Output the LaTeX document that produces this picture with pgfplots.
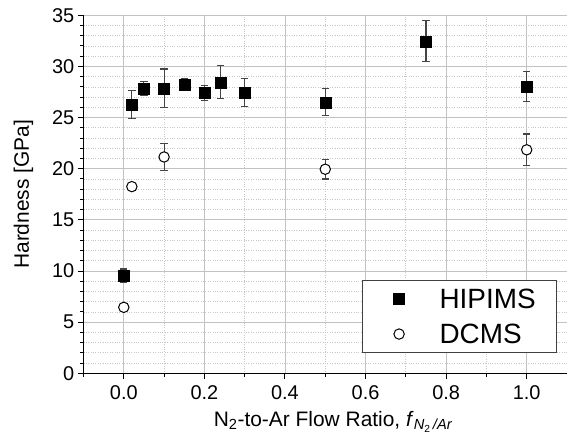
\documentclass[border=0pt]{standalone}
\usepackage{fontspec}
\setmainfont{Liberation Sans}
\usepackage{pgfplots}
\usepackage{pgfplotstable}
\pgfplotsset{compat=1.18}

\definecolor{majgrid}{HTML}{C2C2C2}
\definecolor{mingrid}{HTML}{C8C8C8}
\definecolor{errgray}{HTML}{444444}

% x = N2/Ar flow ratio, y = hardness (GPa), e = error
\pgfplotstableread{
x     y      e
0.00  9.55   0.65
0.02  26.30  1.35
0.05  27.85  0.70
0.10  27.85  1.90
0.15  28.25  0.55
0.20  27.40  0.75
0.24  28.45  1.60
0.30  27.45  1.35
0.50  26.50  1.30
0.75  32.45  2.00
1.00  28.05  1.45
}\hipims

\pgfplotstableread{
x     y      e
0.00  6.45   0.00
0.02  18.25  0.00
0.10  21.15  1.35
0.50  19.95  0.95
1.00  21.85  1.55
}\dcms

\begin{document}
\begin{tikzpicture}
\useasboundingbox (0,0) rectangle (567bp,446bp);
\begin{axis}[
  at={(83.5bp,72.7bp)}, anchor=south west,
  scale only axis, width=483.5bp, height=358bp,
  xmin=-0.1, xmax=1.1, ymin=0, ymax=35,
  xtick={0,0.2,0.4,0.6,0.8,1.0},
  minor xtick={-0.1,0.1,0.3,0.5,0.7,0.9,1.1},
  ytick={0,5,10,15,20,25,30,35},
  minor y tick num=4,
  axis lines=left,
  axis line style={-, black, line width=1.1bp},
  tick align=outside,
  major tick length=5.7bp, minor tick length=3.3bp,
  every tick/.style={black, line width=1bp},
  grid=both,
  major grid style={majgrid, line width=0.9bp},
  minor grid style={mingrid, dotted, line width=0.7bp},
  /pgf/number format/assume math mode=true,
  ticklabel style={font=\fontsize{20}{24}\selectfont},
  xticklabel style={yshift=-3bp, /pgf/number format/.cd, fixed, fixed zerofill, precision=1},
  xlabel={N\textsubscript{2}-to-Ar Flow Ratio, \textit{f}\textsubscript{\textit{N}\textsubscript{2}\,\textit{/Ar}}},
  ylabel={Hardness [GPa]},
  label style={font=\fontsize{21}{25}\selectfont},
  xlabel style={at={(axis description cs:0.5,0)}, anchor=base, yshift=-53bp, xshift=8bp},
  ylabel style={at={(axis description cs:0,0.5)}, anchor=center, yshift=60bp},
  legend style={at={(rel axis cs:0.9795,0.0567)}, anchor=south east,
    draw=black!75, line width=0.9bp, fill=white,
    font=\fontsize{28}{28}\selectfont,
    inner xsep=0pt, inner ysep=8bp, row sep=14bp,
    nodes={inner xsep=0pt, inner ysep=0pt}},
  legend cell align=left,
  legend image code/.code={\path (0,0) (76bp,0); \draw[#1] plot coordinates {(36bp,0)};},
]
\addplot[only marks, mark=square*, mark size=5.5bp,
  mark options={fill=black, draw=black},
  error bars/.cd, y dir=both, y explicit,
  error bar style={errgray, line width=1.1bp},
  error mark options={rotate=90, mark size=3.7bp, line width=1.1bp, errgray}]
  table[x=x, y=y, y error=e] {\hipims};
\addlegendentry{HIPIMS\hspace*{21bp}}
\addplot[only marks, mark=*, mark size=5.2bp,
  mark options={fill=white, draw=black, line width=1bp},
  error bars/.cd, y dir=both, y explicit,
  error bar style={errgray, line width=1.1bp},
  error mark options={rotate=90, mark size=3.7bp, line width=1.1bp, errgray}]
  table[x=x, y=y, y error=e] {\dcms};
\addlegendentry{DCMS}
\end{axis}
\end{tikzpicture}
\end{document}
